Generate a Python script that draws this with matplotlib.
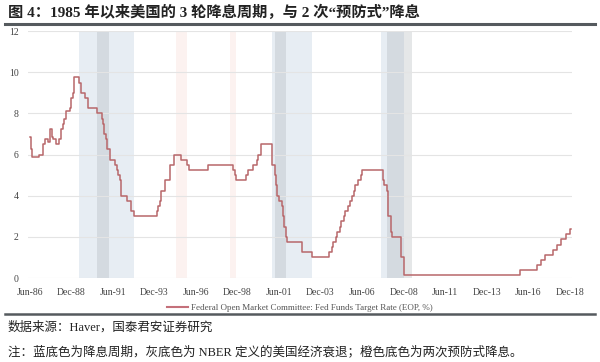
import matplotlib
matplotlib.use("Agg")
import matplotlib.pyplot as plt
import matplotlib.dates as mdates
import pandas as pd

# Fed funds target rate, change points (month, level)
rate_dates = ["1986-06", "1986-07", "1986-08", "1987-01", "1987-04", "1987-05",
              "1987-07", "1987-09", "1987-10", "1987-11", "1988-01", "1988-03",
              "1988-05", "1988-06", "1988-07", "1988-08", "1988-11", "1988-12",
              "1989-01", "1989-02", "1989-06", "1989-07", "1989-10", "1989-12",
              "1990-07", "1990-10", "1990-11", "1990-12", "1991-01", "1991-02",
              "1991-04", "1991-08", "1991-09", "1991-10", "1991-11", "1991-12",
              "1992-04", "1992-07", "1992-09", "1994-02", "1994-03", "1994-04",
              "1994-05", "1994-08", "1994-11", "1995-02", "1995-07", "1995-12",
              "1996-01", "1997-03", "1998-09", "1998-10", "1998-11", "1999-06",
              "1999-08", "1999-11", "2000-02", "2000-03", "2000-05", "2001-01",
              "2001-03", "2001-04", "2001-05", "2001-06", "2001-08", "2001-09",
              "2001-10", "2001-11", "2001-12", "2002-11", "2003-06", "2004-06",
              "2004-08", "2004-09", "2004-11", "2004-12", "2005-02", "2005-03",
              "2005-05", "2005-06", "2005-08", "2005-09", "2005-11", "2005-12",
              "2006-01", "2006-03", "2006-05", "2006-06", "2007-09", "2007-10",
              "2007-12", "2008-01", "2008-03", "2008-04", "2008-10", "2008-12",
              "2015-12", "2016-12", "2017-03", "2017-06", "2017-12", "2018-03",
              "2018-06", "2018-09", "2018-12"]
rate_values = [6.875, 6.25, 5.875, 6.0, 6.5, 6.75,
               6.625, 7.25, 6.875, 6.75, 6.5, 6.75,
               7.25, 7.5, 7.75, 8.125, 8.25, 8.75,
               9.0, 9.75, 9.5, 9.0, 8.75, 8.25,
               8.0, 7.75, 7.5, 7.0, 6.75, 6.25,
               5.75, 5.5, 5.25, 5.0, 4.75, 4.0,
               3.75, 3.25, 3.0, 3.25, 3.5, 3.75,
               4.25, 4.75, 5.5, 6.0, 5.75, 5.5,
               5.25, 5.5, 5.25, 5.0, 4.75, 5.0,
               5.25, 5.5, 5.75, 6.0, 6.5, 5.5,
               5.0, 4.5, 4.0, 3.75, 3.5, 3.0,
               2.5, 2.0, 1.75, 1.25, 1.0, 1.25,
               1.5, 1.75, 2.0, 2.25, 2.5, 2.75,
               3.0, 3.25, 3.5, 3.75, 4.0, 4.25,
               4.5, 4.75, 5.0, 5.25, 4.75, 4.5,
               4.25, 3.0, 2.25, 2.0, 1.0, 0.125,
               0.375, 0.625, 0.875, 1.125, 1.375, 1.625,
               1.875, 2.125, 2.375]
end_date = "2018-12-31"

# shaded periods
cut_cycles = [("1989-06", "1992-09"), ("2001-01", "2003-06"), ("2007-08", "2008-12")]
recessions = [("1990-07", "1991-03"), ("2001-03", "2001-11"), ("2007-12", "2009-06")]
insurance_cuts = [("1995-04", "1995-12"), ("1998-07", "1998-11")]

tick_dates = ["1986-06", "1988-12", "1991-06", "1993-12", "1996-06", "1998-12",
              "2001-06", "2003-12", "2006-06", "2008-12", "2011-06", "2013-12",
              "2016-06", "2018-12"]
y_ticks = [0, 2, 4, 6, 8, 10, 12]

title = "图 4：1985 年以来美国的 3 轮降息周期，与 2 次“预防式”降息"
legend_label = "Federal Open Market Committee: Fed Funds Target Rate (EOP, %)"
source = "数据来源：Haver，国泰君安证券研究"
note = "注：蓝底色为降息周期，灰底色为 NBER 定义的美国经济衰退；橙色底色为两次预防式降息。"

serif = ["Liberation Serif", "Noto Sans CJK SC"]

fig = plt.figure(figsize=(6, 3.62), dpi=100)
ax = fig.add_axes([0.047, 0.232, 0.906, 0.682])

x = list(pd.to_datetime(rate_dates)) + [pd.Timestamp(end_date)]
y = rate_values + [rate_values[-1]]

for a, b in cut_cycles:
    ax.axvspan(pd.Timestamp(a), pd.Timestamp(b), color="#e7edf3", lw=0, zorder=0)
for a, b in recessions:
    ax.axvspan(pd.Timestamp(a), pd.Timestamp(b), color="#a9b0b5", alpha=0.3, lw=0, zorder=0.5)
for a, b in insurance_cuts:
    ax.axvspan(pd.Timestamp(a), pd.Timestamp(b), color="#fcf2f0", lw=0, zorder=0)

ax.plot(x, y, drawstyle="steps-post", color="#b8676a", lw=1.1, zorder=3, label=legend_label)

ax.set_xlim(pd.Timestamp("1986-05-01"), pd.Timestamp("2019-01-15"))
ax.set_ylim(0, 12)
ax.set_yticks(y_ticks)
ax.set_xticks(pd.to_datetime(tick_dates))
ax.xaxis.set_major_formatter(mdates.DateFormatter("%b-%y"))
ax.grid(axis="y", color="#e4e4e4", lw=0.8)
ax.set_axisbelow(True)
for s in ax.spines.values():
    s.set_visible(False)
ax.tick_params(length=0, labelsize=7, labelcolor="#444444")
ax.tick_params(axis="x", pad=7)
ax.tick_params(axis="y", pad=7)
for lab in ax.get_xticklabels() + ax.get_yticklabels():
    lab.set_family(serif)

leg = ax.legend(loc="upper center", bbox_to_anchor=(0.5, -0.07), frameon=False,
                prop={"family": serif, "size": 6.5}, handlelength=2.3, handletextpad=0.3)
for t in leg.get_texts():
    t.set_color("#555555")
for h in leg.get_lines():
    h.set_color("#c4707a")
    h.set_linewidth(1.5)

fig.text(0.013, 0.967, title, fontsize=11, fontweight="bold", family=serif,
         color="#222222", va="center")
fig.add_artist(plt.Line2D([0.008, 0.992], [0.934, 0.934], color="#555a5e", lw=2.2))
fig.add_artist(plt.Line2D([0.008, 0.992], [0.133, 0.133], color="#555a5e", lw=1.8))
fig.text(0.013, 0.094, source, fontsize=9, family=serif, color="#222222", va="center")
fig.text(0.013, 0.028, note, fontsize=9, family=serif, color="#222222", va="center")

fig.savefig("out.png", dpi=100)
